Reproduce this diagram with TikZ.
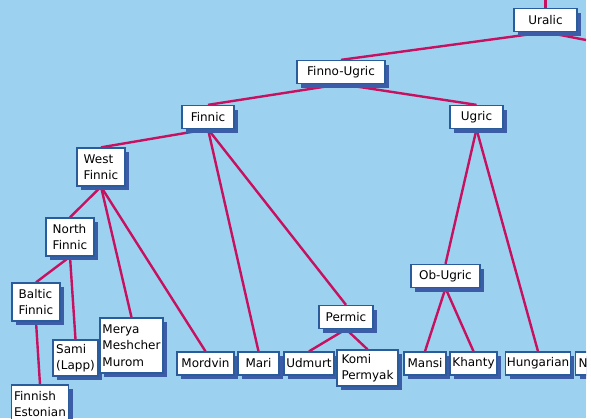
\documentclass[tikz,border=0pt]{standalone}
\usepackage{fontspec}
\setmainfont{DejaVu Sans}
\usetikzlibrary{shadows}
\definecolor{skyblue}{HTML}{9CD2F0}
\definecolor{boxblue}{HTML}{2A5C9C}
\definecolor{shadeblue}{HTML}{3C5CA8}
\definecolor{branchred}{HTML}{C81060}
\pgfdeclarelayer{bg}
\pgfdeclarelayer{links}
\pgfsetlayers{bg,links,main}

\begin{document}
\begin{tikzpicture}[x=1pt,y=-1pt,
      langbox/.style={
         rectangle,
         draw=boxblue,
         fill=white,
         line width=1.3pt,
         drop shadow={shadow xshift=4pt,shadow yshift=-4pt,fill=shadeblue,opacity=1},
         inner xsep=1pt,
         inner ysep=2pt,
         minimum height=23pt,
         align=left,
         font=\fontsize{12}{16.5}\selectfont},
      branch/.style={draw=branchred,line width=2.4pt}
      ]
      \useasboundingbox (0,0) rectangle (591,418);
      \begin{pgfonlayer}{bg}
      \fill[skyblue] (0,0) rectangle (586,418);
      \end{pgfonlayer}
      \clip (0,0) rectangle (586,418);

      \node[langbox,minimum width=63pt] (uralic) at (545.5,20) {Uralic};
      \node[langbox,minimum width=88pt] (finnougric) at (341,72) {Finno-Ugric};
      \node[langbox,minimum width=52pt] (finnic) at (208,117) {Finnic};
      \node[langbox,minimum width=53pt] (ugric) at (476.5,117) {Ugric};
      \node[langbox,minimum width=48pt,minimum height=38pt] (westfinnic) at (101,167) {West\\Finnic};
      \node[langbox,minimum width=48pt,minimum height=38pt] (northfinnic) at (70,237) {North\\Finnic};
      \node[langbox,minimum width=48pt,minimum height=38pt] (balticfinnic) at (36,302) {Baltic\\Finnic};
      \node[langbox,minimum width=57pt,minimum height=38pt] (finnish) at (40,404) {Finnish\\Estonian};
      \node[langbox,minimum width=45pt,minimum height=36pt] (sami) at (75.5,358) {Sami\\(Lapp)};
      \node[langbox,minimum width=63pt,minimum height=55pt] (merya) at (131.5,345.5) {Merya\\Meshcher\\Murom};
      \node[langbox,minimum width=57pt] (mordvin) at (205.5,363.5) {Mordvin};
      \node[langbox,minimum width=41pt] (mari) at (258.5,363.5) {Mari};
      \node[langbox,minimum width=54pt] (permic) at (346,317) {Permic};
      \node[langbox,minimum width=50pt] (udmurt) at (309,363.5) {Udmurt};
      \node[langbox,minimum width=61pt,minimum height=36pt] (komi) at (367.5,368) {Komi\\Permyak};
      \node[langbox,minimum width=69pt] (obugric) at (445.5,276) {Ob-Ugric};
      \node[langbox,minimum width=42pt] (mansi) at (425,363.5) {Mansi};
      \node[langbox,minimum width=47pt] (khanty) at (473.5,363.5) {Khanty};
      \node[langbox,minimum width=64pt] (hungarian) at (538,363.5) {Hungarian};
      \node[langbox,anchor=west,minimum width=24pt,inner xsep=3pt] (nbox) at (575,363.5) {N\hspace{12pt}};

      \coordinate (root) at (545.5,0);
      \coordinate (samoyedic) at (586,40);

      \begin{pgfonlayer}{links}
      \draw[branch] (root) -- (uralic.north);
      \draw[branch] (uralic.south) -- (samoyedic);
      \foreach \i/\j in {% parent/child
        uralic/finnougric,
        finnougric/finnic,
        finnougric/ugric,
        finnic/westfinnic,
        finnic/mari,
        finnic/permic,
        westfinnic/northfinnic,
        westfinnic/merya,
        westfinnic/mordvin,
        northfinnic/balticfinnic,
        northfinnic/sami,
        balticfinnic/finnish,
        permic/udmurt,
        permic/komi,
        ugric/obugric,
        ugric/hungarian,
        obugric/mansi,
        obugric/khanty}
        \draw[branch] (\i.south) -- (\j.north);
      \end{pgfonlayer}
\end{tikzpicture}
\end{document}
